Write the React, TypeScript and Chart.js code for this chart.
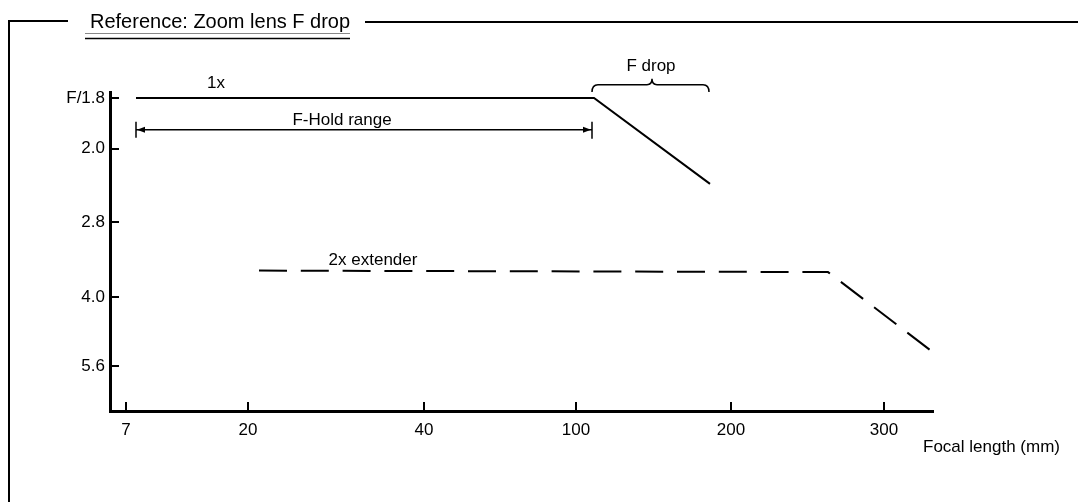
import React, { useEffect, useRef } from 'react';
import { Chart, registerables } from 'chart.js';

Chart.register(...registerables);

// Axis ticks (schematic positions on the drawing)
const focalTickLabels = ['7', '20', '40', '100', '200', '300'];
const focalTickPos = [0, 1.22, 2.98, 4.5, 6.05, 7.58];
const fStopTickLabels = ['F/1.8', '2.0', '2.8', '4.0', '5.6'];
const fStopTickPos = [0, 0.69, 1.69, 2.71, 3.65];

// Series: 1x lens
const lens1xX = [0.1, 4.68, 5.84];
const lens1xY = [0, 0, 1.17];
// Series: with 2x extender
const ext2xX = [1.33, 7.02, 8.04];
const ext2xY = [2.35, 2.37, 3.43];

const FONT = '"Liberation Sans", Arial, Helvetica, sans-serif';

const drawingPlugin = {
  id: 'drawing',
  afterDraw(chart: any) {
    const { ctx, chartArea, scales } = chart;
    const xs = scales.x;
    const ys = scales.y;
    const px = (v: number) => xs.getPixelForValue(v);
    const py = (v: number) => ys.getPixelForValue(v);
    ctx.save();
    ctx.strokeStyle = '#000';
    ctx.fillStyle = '#000';
    ctx.lineCap = 'butt';

    // inward tick marks
    ctx.lineWidth = 2;
    fStopTickPos.forEach((v) => {
      const y = Math.round(py(v));
      ctx.beginPath();
      ctx.moveTo(chartArea.left, y);
      ctx.lineTo(chartArea.left + 9, y);
      ctx.stroke();
    });
    focalTickPos.forEach((v) => {
      const x = Math.round(px(v));
      ctx.beginPath();
      ctx.moveTo(x, chartArea.bottom);
      ctx.lineTo(x, chartArea.bottom - 9);
      ctx.stroke();
    });

    // labels
    ctx.font = `17px ${FONT}`;
    ctx.textBaseline = 'alphabetic';
    ctx.textAlign = 'center';
    ctx.fillText('1x', px(0.9), py(-0.136));
    ctx.fillText('F-Hold range', px(2.16), py(0.367));
    ctx.fillText('F drop', px(5.25), py(-0.367));
    ctx.fillText('2x extender', px(2.47), py(2.27));
    ctx.textAlign = 'left';
    ctx.fillText('Focal length (mm)', chartArea.right - 10, chartArea.bottom + 41);

    // F-Hold range arrow
    const ay = py(0.435);
    const ax1 = px(lens1xX[0]);
    const ax2 = px(lens1xX[1]) - 2;
    ctx.lineWidth = 1.5;
    ctx.beginPath();
    ctx.moveTo(ax1, ay);
    ctx.lineTo(ax2, ay);
    ctx.moveTo(ax1, ay - 8);
    ctx.lineTo(ax1, ay + 8);
    ctx.moveTo(ax2, ay - 8);
    ctx.lineTo(ax2, ay + 9);
    ctx.stroke();
    ctx.beginPath();
    ctx.moveTo(ax1 + 1, ay);
    ctx.lineTo(ax1 + 9, ay - 3);
    ctx.lineTo(ax1 + 9, ay + 3);
    ctx.closePath();
    ctx.fill();
    ctx.beginPath();
    ctx.moveTo(ax2 - 1, ay);
    ctx.lineTo(ax2 - 9, ay - 3);
    ctx.lineTo(ax2 - 9, ay + 3);
    ctx.closePath();
    ctx.fill();

    // F drop brace
    const bx1 = px(lens1xX[1]) - 2;
    const bx2 = px(lens1xX[2]) - 1;
    const bm = px(5.26);
    const yb = py(-0.08);
    const yt = py(-0.18);
    const yp = py(-0.26);
    ctx.lineWidth = 1.5;
    ctx.beginPath();
    ctx.moveTo(bx1, yb);
    ctx.quadraticCurveTo(bx1, yt, bx1 + 6, yt);
    ctx.lineTo(bm - 5, yt);
    ctx.quadraticCurveTo(bm, yt, bm, yp);
    ctx.quadraticCurveTo(bm, yt, bm + 5, yt);
    ctx.lineTo(bx2 - 6, yt);
    ctx.quadraticCurveTo(bx2, yt, bx2, yb);
    ctx.stroke();

    // frame and title
    ctx.lineWidth = 2;
    ctx.beginPath();
    ctx.moveTo(9, 21);
    ctx.lineTo(9, 502);
    ctx.moveTo(8, 21);
    ctx.lineTo(68, 21);
    ctx.moveTo(365, 22);
    ctx.lineTo(1078, 22);
    ctx.stroke();
    ctx.font = `20px ${FONT}`;
    ctx.textAlign = 'left';
    ctx.fillText('Reference: Zoom lens F drop', 90, 28);
    ctx.lineWidth = 1;
    ctx.strokeStyle = '#888';
    ctx.beginPath();
    ctx.moveTo(85, 33.5);
    ctx.lineTo(350, 33.5);
    ctx.stroke();
    ctx.strokeStyle = '#000';
    ctx.lineWidth = 1.5;
    ctx.beginPath();
    ctx.moveTo(85, 38.5);
    ctx.lineTo(350, 38.5);
    ctx.stroke();
    ctx.restore();
  },
};

export default function App() {
  const canvasRef = useRef<HTMLCanvasElement | null>(null);

  useEffect(() => {
    document.body.style.margin = '0';
    const canvas = canvasRef.current;
    if (!canvas) return;
    const chart = new Chart(canvas, {
      type: 'scatter',
      data: {
        datasets: [
          {
            label: '1x',
            data: lens1xX.map((x, i) => ({ x, y: lens1xY[i] })),
            showLine: true,
            borderColor: '#000',
            borderWidth: 2,
            pointRadius: 0,
            fill: false,
          },
          {
            label: '2x extender',
            data: ext2xX.map((x, i) => ({ x, y: ext2xY[i] })),
            showLine: true,
            borderColor: '#000',
            borderWidth: 2,
            borderDash: [28, 13.8],
            pointRadius: 0,
            fill: false,
          },
        ],
      },
      options: {
        animation: false,
        responsive: false,
        maintainAspectRatio: false,
        layout: { padding: { left: 50, right: 145, top: 92, bottom: 0 } },
        plugins: {
          legend: { display: false },
          tooltip: { enabled: false },
          title: { display: false },
        },
        scales: {
          x: {
            type: 'linear',
            min: -0.16,
            max: 8.07,
            afterFit: (s: any) => {
              s.height = 91;
            },
            afterBuildTicks: (s: any) => {
              s.ticks = focalTickPos.map((v) => ({ value: v }));
            },
            ticks: {
              autoSkip: false,
              maxRotation: 0,
              padding: 9,
              color: '#000',
              font: { family: FONT, size: 17 },
              callback: (_v: any, i: number) => focalTickLabels[i],
            },
            grid: { display: false, drawTicks: false },
            border: { display: true, color: '#000', width: 3 },
          },
          y: {
            type: 'linear',
            reverse: true,
            min: -0.08,
            max: 4.26,
            afterFit: (s: any) => {
              s.width = 60;
            },
            afterBuildTicks: (s: any) => {
              s.ticks = fStopTickPos.map((v) => ({ value: v }));
            },
            ticks: {
              autoSkip: false,
              padding: 5,
              color: '#000',
              font: { family: FONT, size: 17 },
              callback: (_v: any, i: number) => fStopTickLabels[i],
            },
            grid: { display: false, drawTicks: false },
            border: { display: true, color: '#000', width: 3 },
          },
        },
      },
      plugins: [drawingPlugin],
    });
    return () => chart.destroy();
  }, []);

  return (
    <div style={{ position: 'fixed', left: 0, top: 0, width: 1078, height: 502, background: '#fff' }}>
      <canvas ref={canvasRef} width={1078} height={502} style={{ display: 'block' }} />
    </div>
  );
}
